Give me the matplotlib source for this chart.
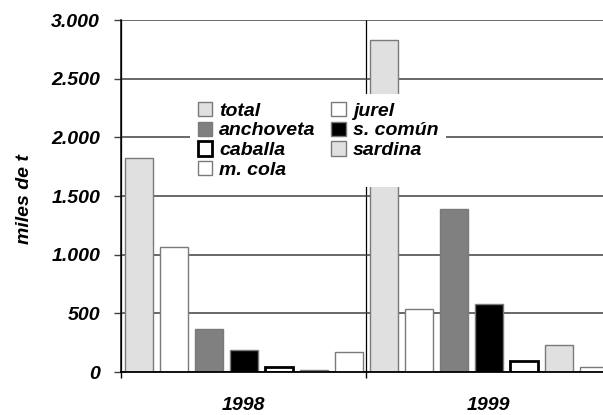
import matplotlib
matplotlib.use("Agg")
import matplotlib.pyplot as plt
from matplotlib.ticker import FuncFormatter, MultipleLocator, FixedLocator
import numpy as np

plt.rcParams['font.family'] = ['Liberation Sans', 'DejaVu Sans']
plt.rcParams['font.weight'] = 'bold'
plt.rcParams['font.style'] = 'italic'
plt.rcParams['axes.labelweight'] = 'bold'

years = ["1998", "1999"]
species = ["total", "jurel", "anchoveta", "s. común", "caballa", "sardina", "m. cola"]
values = {
    "total":     [1825, 2830],
    "jurel":     [1065, 535],
    "anchoveta": [368, 1385],
    "s. común":  [187, 578],
    "caballa":   [42, 98],
    "sardina":   [18, 232],
    "m. cola":   [168, 40],
}
fills = {
    "total": "#e0e0e0", "jurel": "white", "anchoveta": "#808080",
    "s. común": "black", "caballa": "white", "sardina": "#e0e0e0", "m. cola": "white",
}

fig = plt.figure(figsize=(6.03, 4.15), dpi=100)
ax = fig.add_axes([0.2007, 0.1036, 0.8126, 0.8482])

n = len(species)
x = np.arange(len(years))
slot = 1.0 / n
bars = {}
for i, sp in enumerate(species):
    pos = x - 0.5 + (i + 0.5) * slot
    if sp == "caballa":
        ec, lw = "black", 2.0
    else:
        ec, lw = "#7a7a7a", 1.0
    bars[sp] = ax.bar(pos, values[sp], width=0.8 * slot, color=fills[sp],
                      edgecolor=ec, linewidth=lw, zorder=3, label=sp)

fs = 14
ax.set_xlim(-0.5, 1.5)
ax.set_ylim(0, 3000)
ax.yaxis.set_major_locator(MultipleLocator(500))
ax.yaxis.set_major_formatter(FuncFormatter(lambda v, p: f"{int(v):,}".replace(",", ".")))
ax.set_xticks(x)
ax.set_xticklabels(years)
ax.xaxis.set_minor_locator(FixedLocator([-0.5, 0.5, 1.5]))
ax.tick_params(axis='x', which='major', length=0, pad=18, labelsize=fs)
ax.tick_params(axis='x', which='minor', length=4.5, width=1, color='black', direction='out')
ax.tick_params(axis='y', length=5, width=1, color='#404040', pad=10, labelsize=fs)

ax.grid(axis='y', which='major', color='#404040', linewidth=1.1, zorder=1)
ax.grid(axis='x', which='minor', color='black', linewidth=0.9, zorder=1)
ax.set_axisbelow(True)
for s in ['top', 'right']:
    ax.spines[s].set_visible(False)
ax.spines['left'].set_linewidth(1.1)
ax.spines['bottom'].set_linewidth(1.3)
ax.spines['bottom'].set_zorder(4)

ax.set_ylabel("miles de t", fontsize=fs)
ax.yaxis.set_label_coords(-0.179, 0.49)

order = ["total", "anchoveta", "caballa", "m. cola", "jurel", "s. común", "sardina"]
leg = ax.legend([bars[s] for s in order], order, ncol=2, loc='upper left',
                bbox_to_anchor=(0.141, 0.79), fontsize=fs, frameon=True,
                facecolor='white', edgecolor='none', framealpha=1, fancybox=False,
                handlelength=0.75, handleheight=0.75, handletextpad=0.35,
                labelspacing=0.1, columnspacing=0.8, borderpad=0.4, borderaxespad=0)
leg.set_zorder(5)

fig.savefig("out.png", dpi=100)
